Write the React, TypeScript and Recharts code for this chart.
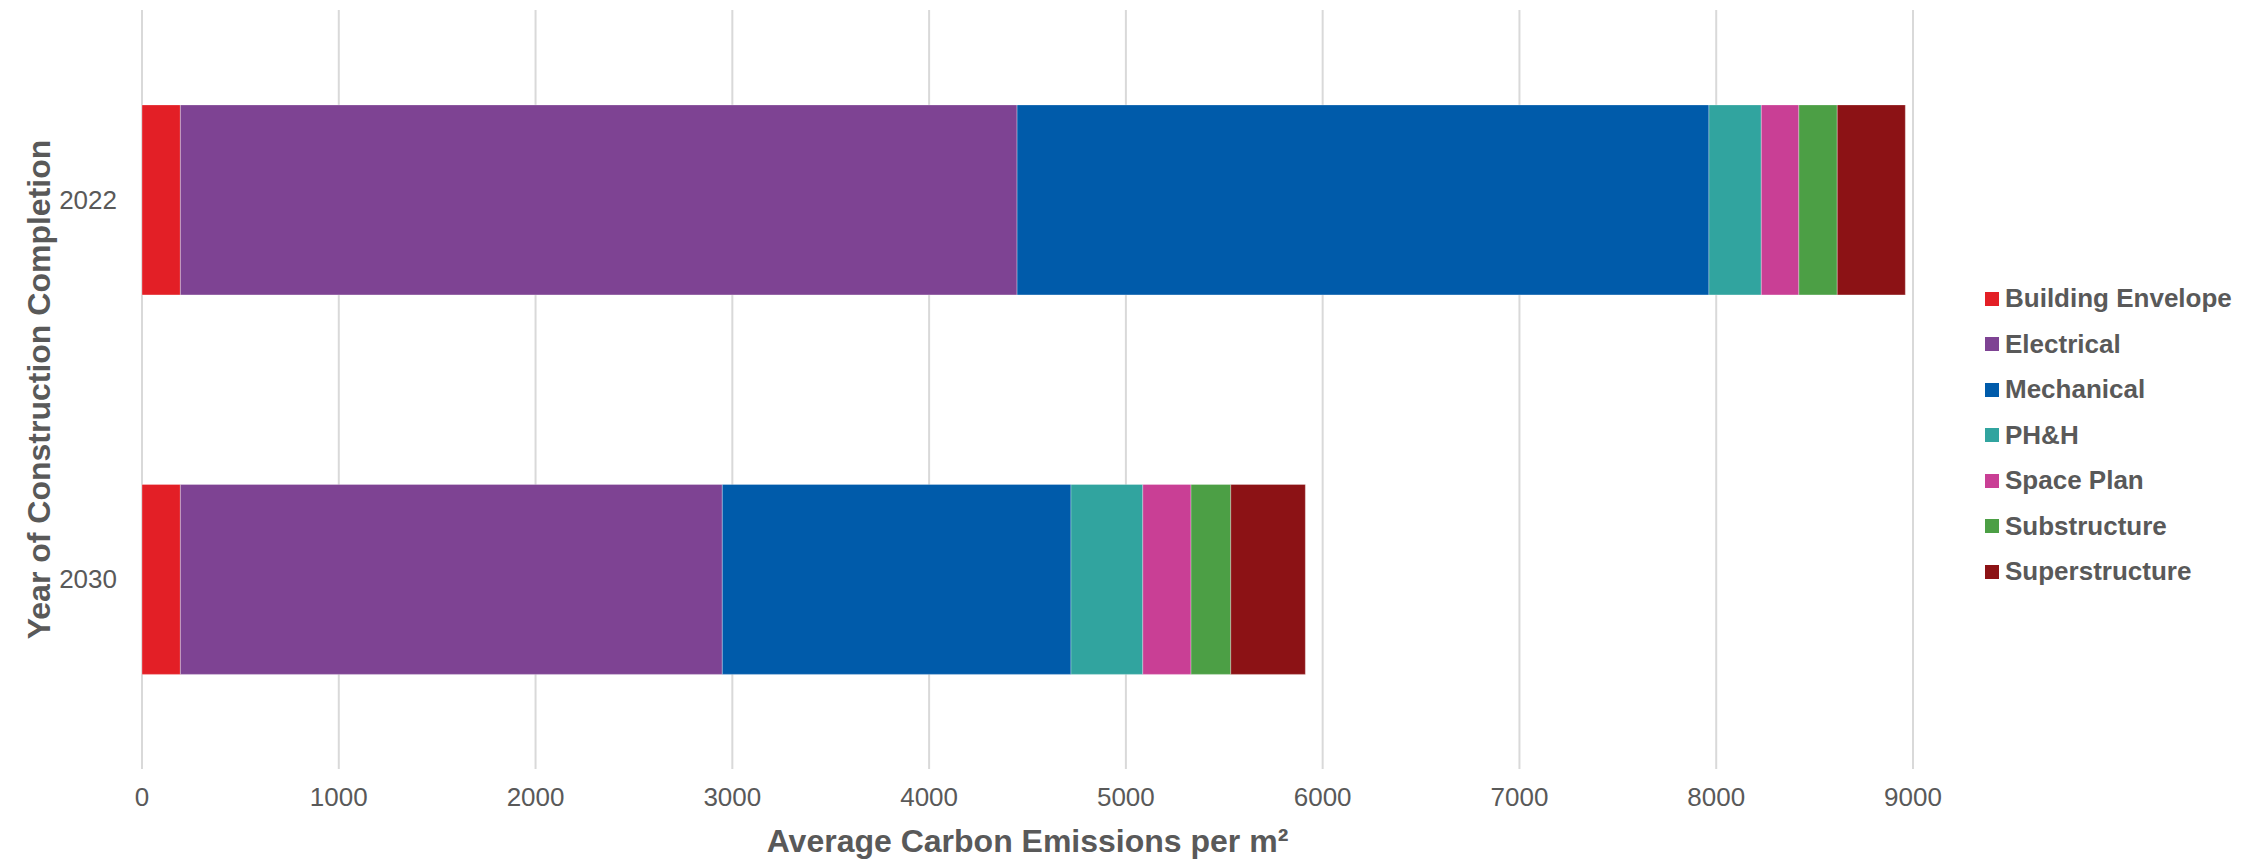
import React from "react"
import { BarChart, Bar, XAxis, YAxis, CartesianGrid, Legend } from "recharts"

const years = ["2022", "2030"]

const buildingEnvelope = [195, 195]
const electrical = [4252, 2754]
const mechanical = [3516, 1772]
const phh = [266, 365]
const spacePlan = [191, 245]
const substructure = [195, 202]
const superstructure = [346, 379]

const xTicks = [0, 1000, 2000, 3000, 4000, 5000, 6000, 7000, 8000, 9000]

const series = [
  { key: "be", name: "Building Envelope", color: "#E31F26", values: buildingEnvelope },
  { key: "el", name: "Electrical", color: "#7E4393", values: electrical },
  { key: "me", name: "Mechanical", color: "#005BAA", values: mechanical },
  { key: "ph", name: "PH&H", color: "#31A49F", values: phh },
  { key: "sp", name: "Space Plan", color: "#C93F95", values: spacePlan },
  { key: "sb", name: "Substructure", color: "#4C9F45", values: substructure },
  { key: "su", name: "Superstructure", color: "#8C1215", values: superstructure },
]

const data = years.map((year, i) => {
  const row: Record<string, string | number> = { year }
  series.forEach((s) => {
    row[s.key] = s.values[i]
  })
  return row
})

const FONT = "'Liberation Sans', Arial, sans-serif"
const TEXT = "#595959"

function LegendList() {
  return (
    <div style={{ fontFamily: FONT, fontWeight: 700, fontSize: 26, color: TEXT }}>
      {series.map((s) => (
        <div key={s.key} style={{ display: "flex", alignItems: "center", height: 45.5 }}>
          <span style={{ width: 14, height: 14, background: s.color, marginRight: 6 }} />
          <span>{s.name}</span>
        </div>
      ))}
    </div>
  )
}

export default function App() {
  return (
    <div style={{ position: "absolute", left: 0, top: 0, background: "#fff" }}>
      <BarChart
        width={2265}
        height={862}
        data={data}
        layout="vertical"
        margin={{ top: 10, right: 352, bottom: 0, left: 0 }}
        barCategoryGap="25%"
      >
        <CartesianGrid horizontal={false} stroke="#D9D9D9" strokeWidth={2} />
        <XAxis
          type="number"
          domain={[0, 9000]}
          ticks={xTicks}
          height={93}
          axisLine={false}
          tickLine={false}
          tickSize={0}
          tickMargin={19}
          tick={{ fill: TEXT, fontSize: 26, fontFamily: FONT }}
          label={{
            content: (props: any) => {
              const vb = props.viewBox || {}
              return (
                <text
                  x={vb.x + vb.width / 2}
                  y={vb.y + 83}
                  textAnchor="middle"
                  fill={TEXT}
                  fontFamily={FONT}
                  fontWeight={700}
                  fontSize={32}
                >
                  Average Carbon Emissions per m²
                </text>
              )
            },
          }}
        />
        <YAxis
          type="category"
          dataKey="year"
          width={142}
          axisLine={false}
          tickLine={false}
          tickSize={0}
          tickMargin={25}
          tick={{ fill: TEXT, fontSize: 26, fontFamily: FONT }}
          label={{
            content: (props: any) => {
              const vb = props.viewBox || {}
              const cx = vb.x + 39
              const cy = vb.y + vb.height / 2
              return (
                <text
                  x={cx}
                  y={cy}
                  transform={`rotate(-90 ${cx} ${cy})`}
                  textAnchor="middle"
                  dominantBaseline="central"
                  fill={TEXT}
                  fontFamily={FONT}
                  fontWeight={700}
                  fontSize={32}
                >
                  Year of Construction Completion
                </text>
              )
            },
          }}
        />
        {/* centred + middle keeps the legend from eating into the plot area */}
        <Legend
          layout="vertical"
          align="center"
          verticalAlign="middle"
          content={() => <LegendList />}
          wrapperStyle={{ left: 1985, top: 276, width: 280 }}
        />
        {series.map((s) => (
          <Bar
            key={s.key}
            dataKey={s.key}
            name={s.name}
            stackId="total"
            fill={s.color}
            stroke="#ffffff"
            strokeOpacity={0.3}
            strokeWidth={1}
            isAnimationActive={false}
          />
        ))}
      </BarChart>
    </div>
  )
}
